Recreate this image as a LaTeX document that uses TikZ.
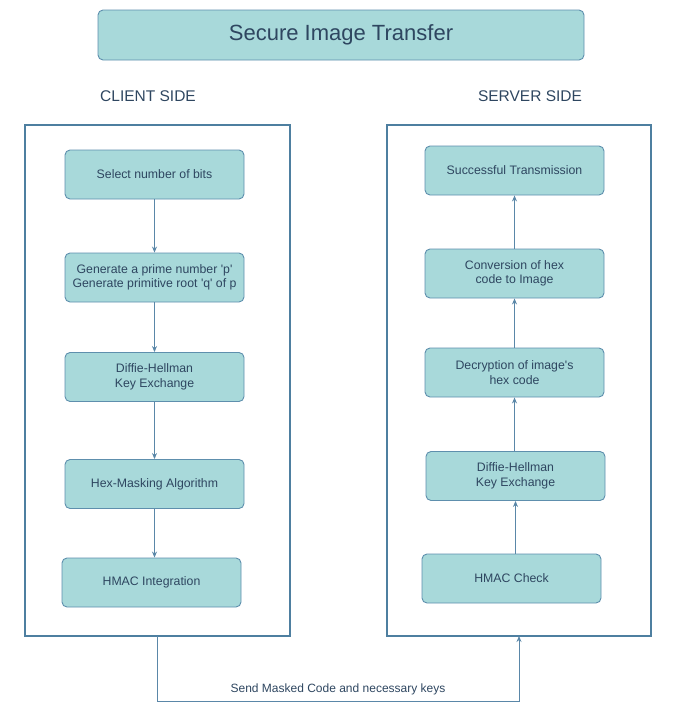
\documentclass[tikz,border=0pt]{standalone}
\usepackage{fontspec}
\setmainfont{Liberation Sans}[Ligatures=TeXOff]
\usetikzlibrary{arrows.meta}
\definecolor{boxfill}{HTML}{A8D9DA}
\definecolor{boxline}{HTML}{5E8FAD}
\definecolor{frameline}{HTML}{4E7FA0}
\definecolor{txt}{HTML}{2E4660}
\definecolor{arr}{HTML}{5A87A8}
\tikzset{
  stepbox/.style={draw=boxline, fill=boxfill, rounded corners=5pt, line width=0.9pt,
    minimum width=179pt, minimum height=49pt, align=center, text=txt,
    font=\fontsize{12.3}{14.5}\selectfont, inner sep=0pt},
  frame/.style={draw=frameline, line width=2.4pt},
  flow/.style={draw=arr, line width=0.9pt, -{Stealth[length=6pt,width=5pt]}},
  side/.style={text=txt, font=\fontsize{15.5}{18}\selectfont},
}
\begin{document}
\begin{tikzpicture}[x=1pt,y=-1pt]
\useasboundingbox (0,0) rectangle (674,723);
% title
\node[stepbox, minimum width=486pt, minimum height=50pt, font=\fontsize{22}{26}\selectfont] (title) at (341,35) {Secure Image Transfer};
\node[side] (client) at (148,96) {CLIENT SIDE};
\node[side] (server) at (530,96) {SERVER SIDE};
% frames
\draw[frame] (25,125) rectangle (290,636);
\draw[frame] (387,125) rectangle (651,636);
\coordinate (cout) at (157,636);
\coordinate (sin) at (519,636);
% client nodes
\node[stepbox] (c1) at (154.5,174.5) {Select number of bits};
\node[stepbox] (c2) at (154.5,277.5) {Generate a prime number 'p'\\Generate primitive root 'q' of p};
\node[stepbox] (c3) at (154.5,377) {Diffie-Hellman\\Key Exchange};
\node[stepbox] (c4) at (154.5,484) {Hex-Masking Algorithm};
\node[stepbox] (c5) at (151.5,582.5) {HMAC Integration};
% server nodes
\node[stepbox] (s5) at (514.5,170.5) {Successful Transmission};
\node[stepbox] (s4) at (514.5,273.5) {Conversion of hex\\code to Image};
\node[stepbox] (s3) at (514.5,372.5) {Decryption of image's\\hex code};
\node[stepbox] (s2) at (515.5,476) {Diffie-Hellman\\Key Exchange};
\node[stepbox] (s1) at (511.5,578.5) {HMAC Check};
% client arrows
\draw[flow] (c1.south) -- (c2.north);
\draw[flow] (c2.south) -- (c3.north);
\draw[flow] (c3.south) -- (c4.north);
\draw[flow] (c4.south) -- (c4.south |- c5.north);
% server arrows
\draw[flow] (s1.north -| s2.south) -- (s2.south);
\draw[flow] (s2.north -| s3.south) -- (s3.south);
\draw[flow] (s3.north) -- (s4.south);
\draw[flow] (s4.north) -- (s5.south);
% transfer connector
\draw[flow] (cout) -- (157,701) -- node[above=2pt, text=txt, font=\fontsize{12}{14}\selectfont] (lbl) {Send Masked Code and necessary keys} (519,701) -- (sin);
\end{tikzpicture}
\end{document}
